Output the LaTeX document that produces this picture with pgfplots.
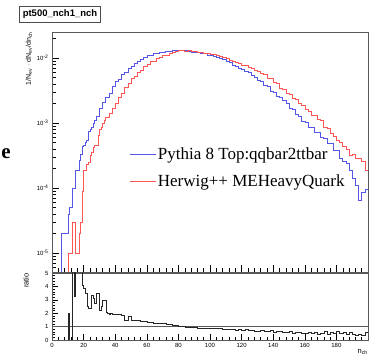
\documentclass[border=0pt]{standalone}
\usepackage{pgfplots}
\pgfplotsset{compat=1.18}
\usepackage{fontspec}
\setmainfont{Liberation Sans}
\newfontfamily\timesfont{Liberation Serif}
\definecolor{pyblue}{RGB}{85,85,230}
\definecolor{hwred}{RGB}{255,85,85}

\begin{document}
\begin{tikzpicture}
\useasboundingbox (0pt,0pt) rectangle (376pt,363pt);
\pgfplotsset{
  every axis/.append style={
    scale only axis, width=316pt, xmin=0, xmax=200,
    axis line style={gray!70!black, line width=0.5pt},
    tick style={black, line width=0.4pt},
    major tick length=7pt, minor tick length=4pt,
    tick label style={font=\fontsize{6}{7}\selectfont},
    /pgf/number format/assume math mode=true,
    xtick pos=left, ytick pos=left,
    clip mode=individual,
  }
}
% ---------------- top panel ----------------
\begin{axis}[at={(52pt,91pt)}, anchor=south west, height=240pt,
  ymode=log, ymin=5.1e-6, ymax=2.5e-2,
  xtick={0,20,...,180}, xticklabels={}, minor xtick={0,4,...,200},
  ytick={1e-5,1e-4,1e-3,1e-2},
  yticklabels={10\textsuperscript{-5},10\textsuperscript{-4},10\textsuperscript{-3},10\textsuperscript{-2}},
  minor ytick={6e-6,7e-6,8e-6,9e-6,2e-5,3e-5,4e-5,5e-5,6e-5,7e-5,8e-5,9e-5,2e-4,3e-4,4e-4,5e-4,6e-4,7e-4,8e-4,9e-4,2e-3,3e-3,4e-3,5e-3,6e-3,7e-3,8e-3,9e-3,2e-2},
  legend style={draw=none, fill=none, at={(0.244,0.528)}, anchor=north west,
    font=\timesfont\fontsize{17}{20}\selectfont, row sep=10pt, inner sep=0pt},
  legend cell align=left,
  legend image code/.code={\draw[#1] (0pt,0pt) -- (26pt,0pt);},
]
\addplot[const plot mark left, pyblue, line width=0.55pt] coordinates {
(5,1e-8) (6,2e-5) (7,2e-5) (8,2e-5) (9,2e-5) (10,4e-5) (11,5e-5) (12,5e-5)
(13,1.0e-4) (14,1.0e-4) (15,1.9e-4) (16,1.9e-4) (17,2.7e-4) (18,3.3e-4) (19,4.3e-4)
(20,4.5e-4) (21,5.0e-4) (22,5.5e-4) (23,7.5e-4) (24,8.0e-4) (25,8.5e-4) (26,1.0e-3)
(27,1.1e-3) (28,1.26e-3) (30,1.66e-3) (32,2.04e-3) (34,2.5e-3) (36,2.9e-3) (38,3.7e-3)
(40,4.3e-3) (42,4.7e-3) (44,5.5e-3) (46,6.1e-3) (48,6.9e-3) (50,7.3e-3) (52,8.2e-3)
(54,8.8e-3) (56,9.6e-3) (58,1.01e-2) (60,1.08e-2) (62,1.11e-2) (64,1.18e-2) (66,1.16e-2)
(68,1.24e-2) (70,1.22e-2) (72,1.27e-2) (74,1.28e-2) (76,1.30e-2) (78,1.31e-2) (80,1.33e-2)
(82,1.31e-2) (84,1.30e-2) (86,1.25e-2) (88,1.24e-2) (90,1.22e-2) (92,1.21e-2) (94,1.16e-2)
(96,1.16e-2) (98,1.11e-2) (100,1.10e-2) (102,1.04e-2) (104,1.01e-2) (106,9.7e-3) (108,9.4e-3)
(110,8.8e-3) (112,8.6e-3) (114,7.8e-3) (116,7.5e-3) (118,7.0e-3) (120,6.7e-3) (122,6.2e-3)
(124,6.0e-3) (126,5.4e-3) (128,5.1e-3) (130,4.6e-3) (132,4.4e-3) (134,3.8e-3) (136,3.6e-3)
(138,3.1e-3) (140,3.0e-3) (142,2.6e-3) (144,2.45e-3) (146,2.2e-3) (148,2.0e-3) (150,1.7e-3)
(152,1.62e-3) (154,1.35e-3) (156,1.28e-3) (158,1.05e-3) (160,1.02e-3) (162,8.6e-4) (164,8.6e-4)
(166,7.3e-4) (168,7.1e-4) (170,6.0e-4) (172,5.9e-4) (174,4.8e-4) (176,4.8e-4) (178,3.8e-4)
(180,3.8e-4) (182,2.9e-4) (184,2.6e-4) (186,2.4e-4) (188,1.9e-4) (190,1.4e-4) (192,1.1e-4)
(194,6.5e-5) (196,8.5e-5) (198,9.5e-5) (200,9.5e-5)
};
\addlegendentry{Pythia 8 Top:qqbar2ttbar}
\addplot[const plot mark left, hwred, line width=0.55pt] coordinates {
(9,1e-8) (10,1e-5) (11,1e-5) (12,1e-5) (13,3e-5) (14,3e-5) (15,1e-5) (16,1e-5) (17,2e-5)
(18,3e-5) (19,9e-5) (20,1.9e-4) (21,1.9e-4) (22,2.3e-4) (23,2.5e-4) (24,3.2e-4) (25,3.5e-4)
(26,4.2e-4) (27,4.5e-4) (28,4.6e-4) (29,6.5e-4) (30,8.0e-4) (31,8.5e-4) (32,1.0e-3) (33,1.1e-3)
(34,1.2e-3) (36,1.4e-3) (38,1.7e-3) (40,2.0e-3) (42,2.45e-3) (44,2.85e-3) (46,3.5e-3)
(48,4.1e-3) (50,4.9e-3) (52,5.3e-3) (54,6.1e-3) (56,6.5e-3) (58,7.5e-3) (60,8.0e-3)
(62,8.8e-3) (64,9.0e-3) (66,9.9e-3) (68,1.01e-2) (70,1.08e-2) (72,1.11e-2) (74,1.18e-2)
(76,1.22e-2) (78,1.27e-2) (80,1.31e-2) (82,1.33e-2) (84,1.28e-2) (86,1.30e-2) (88,1.25e-2)
(90,1.27e-2) (92,1.22e-2) (94,1.21e-2) (96,1.19e-2) (98,1.18e-2) (100,1.14e-2) (102,1.13e-2)
(104,1.09e-2) (106,1.06e-2) (108,1.01e-2) (110,9.9e-3) (112,9.2e-3) (114,9.0e-3) (116,8.6e-3)
(118,8.4e-3) (120,7.8e-3) (122,7.7e-3) (124,7.1e-3) (126,7.0e-3) (128,6.5e-3) (130,6.3e-3)
(132,5.8e-3) (134,5.6e-3) (136,4.9e-3) (138,4.8e-3) (140,4.2e-3) (142,4.0e-3) (144,3.4e-3)
(146,3.3e-3) (148,2.9e-3) (150,2.75e-3) (152,2.4e-3) (154,2.3e-3) (156,2.0e-3) (158,1.85e-3)
(160,1.6e-3) (162,1.52e-3) (164,1.32e-3) (166,1.3e-3) (168,1.12e-3) (170,1.1e-3) (172,8.6e-4)
(174,8.2e-4) (176,6.9e-4) (178,6.2e-4) (180,5.4e-4) (182,5.1e-4) (184,4.3e-4) (186,3.9e-4)
(188,3.2e-4) (190,3.3e-4) (192,2.9e-4) (194,2.9e-4) (196,2.6e-4) (198,1.9e-4) (200,1.9e-4)
};
\addlegendentry{Herwig++ MEHeavyQuark}
\node[rotate=90, anchor=east, font=\fontsize{7}{8}\selectfont, inner sep=0pt]
  at ([xshift=-23pt]rel axis cs:0,1) {1/N\textsubscript{ev} $\cdot$ dN\textsubscript{ev}/dn\textsubscript{ch}};
\end{axis}
% ---------------- ratio panel ----------------
\begin{axis}[at={(52pt,23pt)}, anchor=south west, height=67pt,
  ymin=0, ymax=5, ytick={0,1,2,3,4,5}, minor y tick num=4,
  xtick={0,20,...,180}, minor xtick={0,4,...,200},
  major tick length=6pt, minor tick length=3pt,
]
\addplot[gray!70!black, line width=0.45pt] coordinates {(0,1) (200,1)};
\addplot[const plot mark left, black!85, line width=0.4pt] coordinates {
(0,0) (10,2.0) (11,0) (13,10) (14,3.3) (15,10) (19,4.1) (20,3.9) (21,3.5) (22,2.5)
(23,2.4) (25,3.35) (26,3.1) (27,2.75) (28,3.5) (30,2.2) (31,2.5) (32,3.0) (34,2.1)
(35,2.0) (36,1.9) (37,2.0) (38,1.95) (40,1.95) (42,1.9) (44,1.85) (46,1.45) (48,1.75)
(50,1.5) (52,1.45) (54,1.48) (56,1.4) (58,1.42) (60,1.35) (62,1.3) (64,1.28) (66,1.25)
(68,1.22) (70,1.22) (72,1.2) (74,1.18) (76,1.12) (78,1.08) (80,1.02) (82,1.0) (84,0.95)
(86,0.95) (88,0.92) (90,0.93) (92,0.9) (94,0.9) (96,0.88) (98,0.9) (100,0.88) (102,0.86)
(104,0.85) (106,0.86) (108,0.82) (110,0.8) (112,0.8) (114,0.78) (116,0.76) (118,0.78)
(120,0.74) (122,0.78) (124,0.7) (126,0.72) (128,0.68) (130,0.66) (132,0.7) (134,0.62)
(136,0.65) (138,0.72) (140,0.6) (142,0.68) (144,0.62) (146,0.56) (148,0.6) (150,0.64)
(152,0.52) (154,0.56) (156,0.6) (158,0.52) (160,0.5) (162,0.56) (164,0.48) (166,0.55)
(168,0.46) (170,0.52) (172,0.65) (174,0.45) (176,0.6) (178,0.5) (180,0.62) (182,0.5)
(184,0.58) (186,0.42) (188,0.6) (190,0.4) (192,0.35) (194,0.45) (196,0.38) (198,0.6) (200,0.6)
};
\node[rotate=90, anchor=east, font=\fontsize{7.5}{9}\selectfont, inner sep=0pt]
  at ([xshift=-26pt]rel axis cs:0,1) {ratio};
\node[anchor=north east, font=\fontsize{7.5}{9}\selectfont, inner sep=0pt]
  at ([yshift=-9pt]rel axis cs:1,0) {n\textsubscript{ch}};
\end{axis}
\node[draw=gray!60!black, fill=white, line width=0.6pt, inner xsep=3pt, minimum height=13pt,
  font=\bfseries\fontsize{9.5}{11}\selectfont] at (60pt,348.5pt) {pt500\_nch1\_nch};
\node[anchor=base east, inner sep=0pt, font=\timesfont\bfseries\fontsize{21}{23}\selectfont]
  at (11pt,204pt) {e};
\end{tikzpicture}
\end{document}
